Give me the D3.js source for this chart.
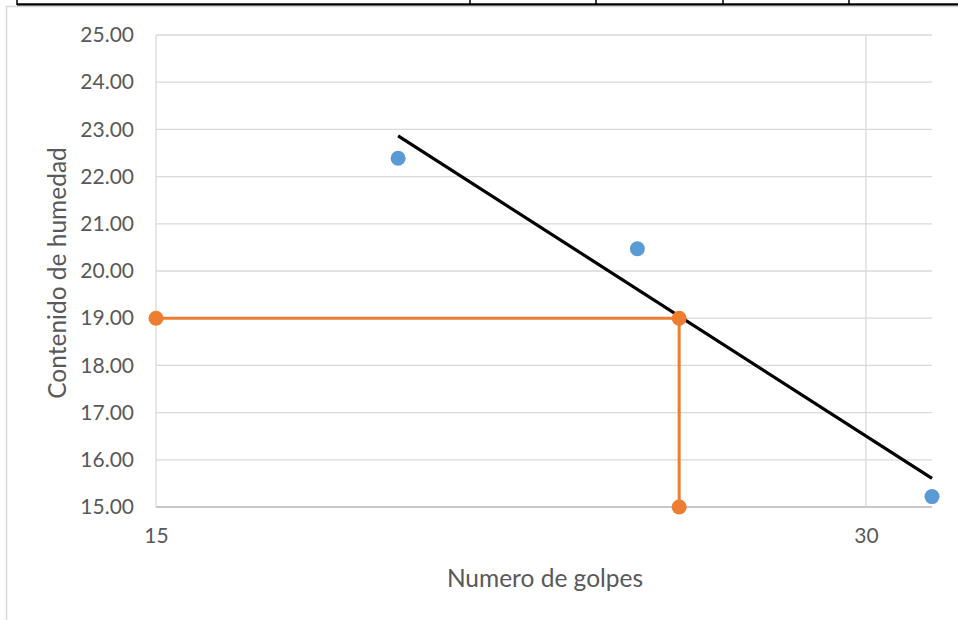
<!DOCTYPE html>
<html><head><meta charset="utf-8">
<script src="https://cdn.jsdelivr.net/npm/d3@7"></script>
<style>body{margin:0;background:#fff;}svg{display:block;}</style>
</head><body>
<svg id="c" width="958" height="620"></svg>
<script>
// Data
const golpes = [19, 24, 32];
const humedad = [22.39, 20.47, 15.22];
const guiaX = [15, 25, 25];
const guiaY = [19.0, 19.0, 15.0];
const yTicks = [15, 16, 17, 18, 19, 20, 21, 22, 23, 24, 25];
const xTicks = [15, 30];
const xTitle = "Numero de golpes";
const yTitle = "Contenido de humedad";

const svg = d3.select("#c");
const font = "Lato, 'Open Sans', sans-serif";
const margin = {left: 156, right: 958 - 932, top: 35, bottom: 620 - 507};
const W = 958, H = 620;

// page fragments: table border above chart
svg.append("line").attr("x1", 17).attr("x2", 958).attr("y1", 4.5).attr("y2", 4.5).attr("stroke", "#000").attr("stroke-width", 2.5);
[17, 470, 596, 723, 849].forEach(x => svg.append("line").attr("x1", x).attr("x2", x).attr("y1", 0).attr("y2", 5).attr("stroke", "#000").attr("stroke-width", 1.5));
// chart border
svg.append("path").attr("d", `M6.5,620 V6.5 H958`).attr("fill", "none").attr("stroke", "#d9d9d9").attr("stroke-width", 1.5);

const x = d3.scaleLog().domain([15, 32]).range([margin.left, W - margin.right]);
const y = d3.scaleLinear().domain([15, 25]).range([H - margin.bottom, margin.top]);

// gridlines
const g = svg.append("g");
g.selectAll(".hg").data(yTicks).join("line")
  .attr("x1", x(15)).attr("x2", x(32)).attr("y1", d => y(d)).attr("y2", d => y(d))
  .attr("stroke", "#d9d9d9").attr("stroke-width", 1.3);
g.selectAll(".vg").data(xTicks).join("line")
  .attr("x1", d => x(d)).attr("x2", d => x(d)).attr("y1", y(25)).attr("y2", y(15))
  .attr("stroke", "#d9d9d9").attr("stroke-width", 1.3);
// bottom axis line
svg.append("line").attr("x1", x(15)).attr("x2", x(32)).attr("y1", y(15)).attr("y2", y(15)).attr("stroke", "#bfbfbf").attr("stroke-width", 1.3);

// axes
const yAxis = d3.axisLeft(y).tickValues(yTicks).tickFormat(d3.format(".2f")).tickSize(0).tickPadding(22);
const ya = svg.append("g").attr("transform", `translate(${x(15)},0)`).call(yAxis);
ya.select(".domain").remove();
ya.selectAll("text").attr("font-family", font).attr("font-size", 21).attr("fill", "#595959");

const xAxis = d3.axisBottom(x).tickValues(xTicks).tickFormat(d3.format("d")).tickSize(0).tickPadding(21);
const xa = svg.append("g").attr("transform", `translate(0,${y(15)})`).call(xAxis);
xa.select(".domain").remove();
xa.selectAll("text").attr("font-family", font).attr("font-size", 21).attr("fill", "#595959");

// titles
svg.append("text").attr("x", 545).attr("y", 587).attr("text-anchor", "middle")
  .attr("font-family", font).attr("font-size", 24.5).attr("fill", "#595959").text(xTitle);
svg.append("text").attr("transform", `translate(66,${273}) rotate(-90)`).attr("text-anchor", "middle")
  .attr("font-family", font).attr("font-size", 24.5).attr("fill", "#595959").text(yTitle);

// logarithmic trendline (least squares on ln x)
const lx = golpes.map(Math.log);
const mx = d3.mean(lx), my = d3.mean(humedad);
const slope = d3.sum(lx.map((v, i) => (v - mx) * (humedad[i] - my))) / d3.sum(lx.map(v => (v - mx) ** 2));
const icpt = my - slope * mx;
const trend = d3.extent(golpes).map(v => [v, icpt + slope * Math.log(v)]);
svg.append("path").attr("d", d3.line().x(d => x(d[0])).y(d => y(d[1]))(trend))
  .attr("stroke", "#000").attr("stroke-width", 3.2).attr("fill", "none");

// guide series
const guide = guiaX.map((v, i) => [v, guiaY[i]]);
svg.append("path").attr("d", d3.line().x(d => x(d[0])).y(d => y(d[1]))(guide))
  .attr("stroke", "#ed7d31").attr("stroke-width", 3).attr("fill", "none");
svg.selectAll(".gp").data(guide).join("circle")
  .attr("cx", d => x(d[0])).attr("cy", d => y(d[1])).attr("r", 7.5).attr("fill", "#ed7d31");

// data points
svg.selectAll(".dp").data(golpes.map((v, i) => [v, humedad[i]])).join("circle")
  .attr("cx", d => x(d[0])).attr("cy", d => y(d[1])).attr("r", 7.5).attr("fill", "#5b9bd5");
</script>
</body></html>
